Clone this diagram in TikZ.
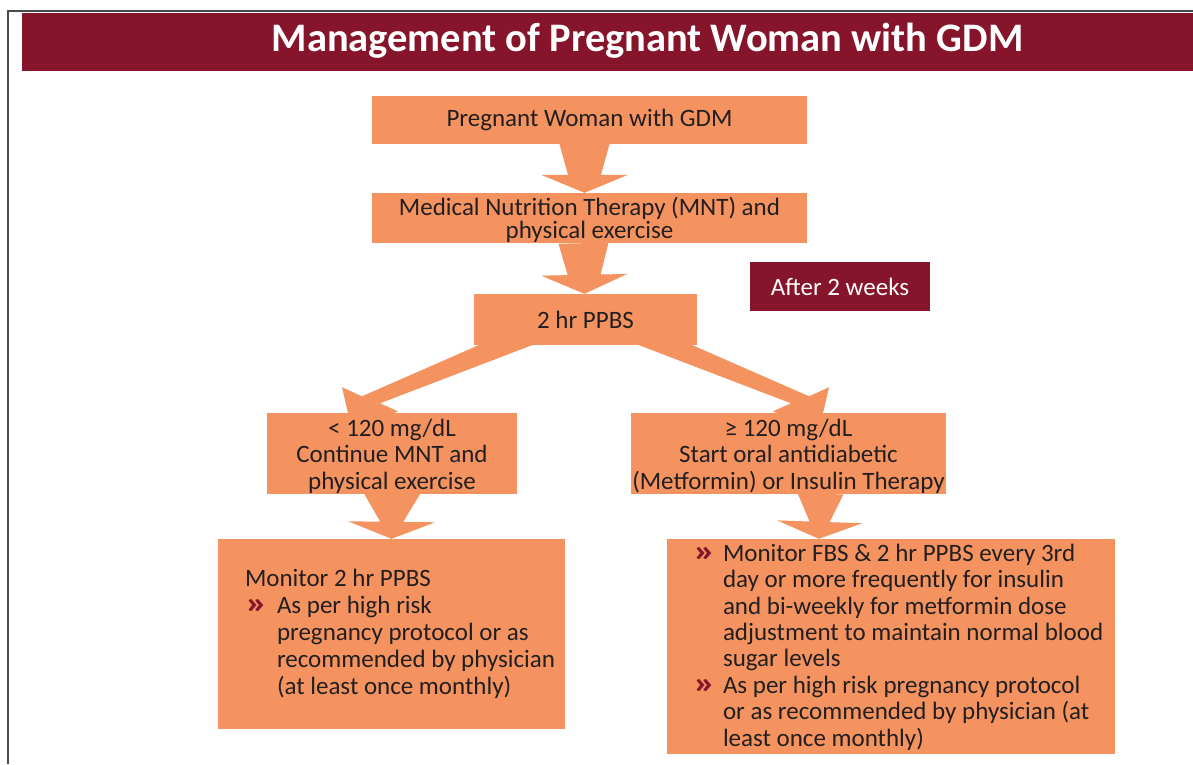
\documentclass[tikz,border=0pt]{standalone}
\usepackage{fontspec}
\setmainfont{Carlito}
\usetikzlibrary{calc}

\definecolor{boxorange}{HTML}{F4935F}
\definecolor{maroon}{HTML}{86152B}
\definecolor{inkgray}{HTML}{231F20}
\definecolor{framegray}{HTML}{4A4A4A}

\pgfdeclarelayer{background}
\pgfsetlayers{background,main}

\newcommand\bodyfont{\fontsize{25}{26.5}\selectfont}
\newcommand\bul{\textcolor{maroon}{\bfseries\scalebox{1.7}[1.25]{»}}}

% tapered block arrow: #1 start, #2 tip, #3 half width at start,
% #4 half width at the neck, #5 half width of the head, #6 head length
\newcommand\taperarrow[6]{%
  \path #1 coordinate (tpA) #2 coordinate (tpB);
  \path ($(tpB)!#6!(tpA)$) coordinate (tpH);
  \fill[arrowfill] ($(tpA)!#3!90:(tpB)$) -- ($(tpH)!#4!90:(tpB)$)
    -- ($(tpH)!#5!90:(tpB)$) -- (tpB) -- ($(tpH)!#5!-90:(tpB)$)
    -- ($(tpH)!#4!-90:(tpB)$) -- ($(tpA)!#3!-90:(tpB)$) -- cycle;}

\tikzset{
  flowbox/.style={fill=boxorange, inner sep=0pt, align=center, text=inkgray, font=\bodyfont},
  notebox/.style={fill=maroon, inner sep=0pt, text=white, font=\bodyfont},
  bodytext/.style={inner sep=0pt, text=inkgray, font=\bodyfont},
  arrowfill/.style={fill=boxorange},
}

\begin{document}
\begin{tikzpicture}[x=1pt, y=-1pt]
\useasboundingbox (0,0) rectangle (1193,764);

% frame and title banner
\draw[framegray, line width=2pt] (8,764) -- (8,11) -- (1193,11);
\node[fill=maroon, minimum width=1171pt, minimum height=58pt, inner sep=0pt] (banner) at (607.5,42) {};
\node[text=white, inner sep=0pt, font={\fontsize{40.5}{44}\selectfont\bfseries}] (title) at (647.5,41)
  {Management of Pregnant Woman with GDM};

% flow boxes
\node[flowbox, minimum width=435pt, minimum height=48pt] (b1) at (589.5,120) {Pregnant Woman with GDM};
\node[flowbox, minimum width=435pt, minimum height=50pt, font={\fontsize{25}{23}\selectfont}] (b2) at (589.5,218)
  {\rule{0pt}{22pt}Medical Nutrition Therapy (MNT) and\\physical exercise};
\node[flowbox, minimum width=223pt, minimum height=51pt] (b3) at (585.5,319.5) {2 hr PPBS};
\node[notebox, minimum width=180pt, minimum height=49pt] (weeks) at (840,286.5) {After 2 weeks};
\node[flowbox, minimum width=250pt, minimum height=77pt] (b4) at (392,453.5)
  {\rule{0pt}{23pt}< 120 mg/dL\\Continue MNT and\\physical exercise};
\node[flowbox, minimum width=315pt, minimum height=77pt] (b5) at (788.5,453.5)
  {\rule{0pt}{23pt}≥ 120 mg/dL\\Start oral antidiabetic\\(Metformin) or Insulin Therapy};
\node[flowbox, minimum width=347pt, minimum height=190pt] (b6) at (391.5,634) {};
\node[flowbox, minimum width=448pt, minimum height=215pt] (b7) at (891,646.5) {};

% box contents
\node[bodytext, anchor=west, font={\fontsize{25}{27}\selectfont}] (t6) at ($(b6.west)+(27,1)$)
  {\begin{tabular}{@{}p{32pt}@{}l@{}}
   \multicolumn{2}{@{}l@{}}{Monitor 2 hr PPBS}\\
   \bul & As per high risk\\
        & pregnancy protocol or as\\
        & recommended by physician\\
        & (at least once monthly)
   \end{tabular}};
\node[bodytext, anchor=west, font={\fontsize{25}{26.4}\selectfont}] (t7) at ($(b7.west)+(26,2)$)
  {\begin{tabular}{@{}p{30pt}@{}l@{}}
   \bul & Monitor FBS \& 2 hr PPBS every 3rd\\
        & day or more frequently for insulin\\
        & and bi-weekly for metformin dose\\
        & adjustment to maintain normal blood\\
        & sugar levels\\
   \bul & As per high risk pregnancy protocol\\
        & or as recommended by physician (at\\
        & least once monthly)
   \end{tabular}};

% connectors, behind the boxes
\begin{pgfonlayer}{background}
  \fill[white] (0,0) rectangle (1193,764);
  \taperarrow{($(b1.south)+(-5,0)$)}{($(b2.north)+(-5,0)$)}{25pt}{16.5pt}{43.5pt}{18pt}
  \taperarrow{($(b2.south)+(-6,0)$)}{($(b3.north)+(-1,0)$)}{25pt}{16.5pt}{43pt}{19pt}
  \taperarrow{(b4.south)}{(b6.north)}{28pt}{11.5pt}{43.5pt}{17pt}
  \taperarrow{($(b5.south)+(32,0)$)}{($(b7.north)+(-72,0)$)}{23pt}{10pt}{42.5pt}{17pt}
  % diagonal branches to the two outcomes
  \fill[arrowfill] ($(b3.south)+(-95.5,-5)$) -- ($(b4.north)+(-30,-17)$) -- ($(b4.north)+(-50,-26)$)
    -- ($(b4.north)+(-40,17)$) -- ($(b4.north)+(6,-2)$) -- ($(b4.north)+(-12,-10)$)
    -- ($(b3.south)+(-40.5,-5)$) -- cycle;
  \fill[arrowfill] ($(b3.south)+(95.5,-5)$) -- ($(b5.north)+(20.5,-17)$) -- ($(b5.north)+(40.5,-26)$)
    -- ($(b5.north)+(30.5,17)$) -- ($(b5.north)+(-15.5,-2)$) -- ($(b5.north)+(2.5,-10)$)
    -- ($(b3.south)+(40.5,-5)$) -- cycle;
\end{pgfonlayer}
\end{tikzpicture}
\end{document}
